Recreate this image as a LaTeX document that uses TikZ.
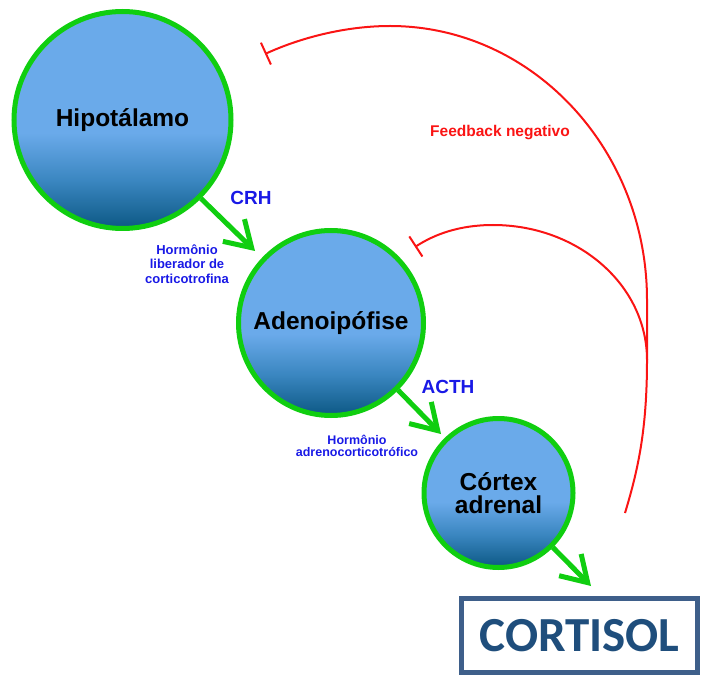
\documentclass[tikz,border=0pt]{standalone}
\usepackage{fontspec}
\setmainfont{Liberation Sans}
\newfontfamily\calib{Carlito}
\usetikzlibrary{arrows.meta}
\definecolor{gr}{RGB}{16,206,16}
\definecolor{lb}{RGB}{106,170,234}
\definecolor{mb}{RGB}{58,134,192}
\definecolor{db}{RGB}{12,88,132}
\definecolor{lbl}{RGB}{25,25,230}
\definecolor{fbred}{RGB}{250,20,20}
\definecolor{boxb}{RGB}{62,95,138}
\definecolor{txtb}{RGB}{31,78,124}
\pgfdeclareverticalshading{ballshade}{100bp}{color(0bp)=(db); color(25bp)=(db); color(36bp)=(mb); color(47bp)=(lb); color(100bp)=(lb)}
\begin{document}
\begin{tikzpicture}[x=1pt,y=-1pt,
 organ/.style={circle, draw=gr, line width=5pt, shading=ballshade, align=center, font=\fontsize{24.5}{23.5}\selectfont\bfseries, inner sep=0pt},
 garrow/.style={draw=gr, line width=5pt, -{Straight Barb[length=25pt,width=31pt]}},
 fb/.style={draw=fbred, line width=2pt},
 lbltitle/.style={text=lbl, font=\fontsize{19}{22}\selectfont\bfseries},
 lblsmall/.style={text=lbl, align=center, font=\fontsize{13}{14.5}\selectfont\bfseries},
 cortbox/.style={draw=boxb, line width=5pt, minimum width=236pt, minimum height=74pt, inner sep=0pt, text=txtb, font=\calib\fontsize{49}{50}\selectfont\bfseries}]
\useasboundingbox (0,0) rectangle (704,676);
\node[organ, minimum size=217pt] (hyp) at (122.5,120) {Hipotálamo};
\node[organ, minimum size=185pt] (ade) at (331,323) {Adenoipófise};
\node[organ, minimum size=149pt] (cor) at (498.5,493) {Córtex\\adrenal};
\coordinate (t1) at (255,251);
\coordinate (t2) at (441,434);
\coordinate (t3) at (591,586);
\draw[garrow] (hyp.-45) -- (t1);
\draw[garrow] (ade.-45) -- (t2);
\draw[garrow] (cor.-45) -- (t3);
\node[lbltitle] (crh) at (251,198) {CRH};
\node[lblsmall] (crhn) at (187,264) {Hormônio\\liberador de\\corticotrofina};
\node[lbltitle] (acth) at (448,387) {ACTH};
\node[lblsmall, font=\fontsize{12.5}{12.5}\selectfont\bfseries] (acthn) at (357,446) {Hormônio\\adrenocorticotrófico};
\node[text=fbred, font=\fontsize{15.5}{18}\selectfont\bfseries] (fbl) at (500,133) {Feedback negativo};
\node[cortbox] (cort) at (579.5,635.5) {CORTISOL};
\coordinate (fb0) at (625,513);
\coordinate (fbm) at (647,360);
\coordinate (fbh) at (265,54);
\coordinate (fba) at (415,247);
\draw[fb, -{Bar[width=24pt]}] (fb0) .. controls (638,470) and (647,430) .. (fbm) -- (647,300) .. controls (647,149) and (532,26) .. (390,26) .. controls (345,26) and (300,38) .. (fbh);
\draw[fb, -{Bar[width=24pt]}] (fbm) .. controls (647,285) and (578,225) .. (493,225) .. controls (460,225) and (435,234) .. (fba);
\end{tikzpicture}
\end{document}
